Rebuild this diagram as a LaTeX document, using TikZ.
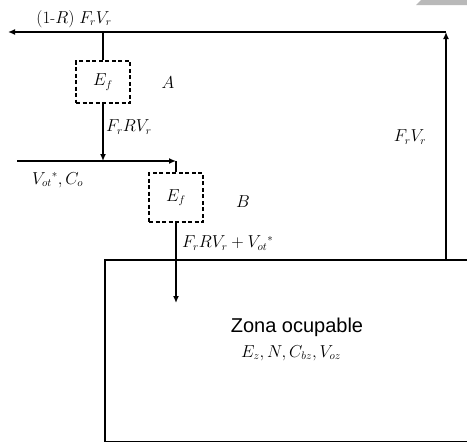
\documentclass[tikz,border=0pt]{standalone}
\usepackage{fontspec}
\newfontfamily\zonafont{Liberation Sans}
\usetikzlibrary{arrows,arrows.meta}

\begin{document}
\begin{tikzpicture}[
  x=1pt,y=-1pt,
  wire/.style={line width=1.3pt},
  flow/.style={wire,-{Latex[length=7pt,width=6pt]}},
  efbox/.style={draw,line width=1.2pt,dash pattern=on 4pt off 2.5pt,
    minimum width=54pt,minimum height=42pt,inner sep=0pt},
  lbl/.style={font=\fontsize{16}{18}\selectfont,inner sep=0pt}
]
  \useasboundingbox (0,0) rectangle (467,442);
  \fill[gray!55] (421,0) -- (467,0) -- (467,5) -- (416,5) -- cycle;

  % zone and the two dashed boxes
  \node[draw,line width=2pt,minimum width=380pt,minimum height=182pt,
    anchor=north west,inner sep=0pt] (zona) at (104,259) {};
  \node[efbox,lbl] (ea) at (103,82) {$E_f$};
  \node[efbox,lbl,minimum height=49pt] (eb) at (176,197.5) {$E_f$};

  \coordinate (tl) at (8,32);
  \coordinate (tr) at (446,32);
  \coordinate (ml) at (17,161);
  \coordinate (mr) at (176,161);
  \coordinate (tip) at (176,303);

  \draw[flow] (tr |- zona.north) -- (tr);
  \draw[flow] (tr) -- (tl);
  \draw[wire] (ea.north |- tl) -- (ea.north);
  \draw[flow] (ea.south) -- (ea.south |- ml);
  \draw[flow] (ml) -- (mr);
  \draw[wire] (mr) -- (eb.north);
  \draw[flow] (eb.south) -- (tip);

  \node[lbl] (rec) at (74,19) {$(1$-$R)\;F_r V_r$};
  \node[lbl] (la) at (168,83) {$A$};
  \node[lbl,anchor=west] (fa) at (106,127) {$F_r R V_r$};
  \node[lbl,anchor=west] (vin) at (32,180) {$V_{ot}{}^{*}, C_o$};
  \node[lbl] (lb) at (243,202) {$B$};
  \node[lbl,anchor=west] (fb) at (182,243) {$F_r R V_r + V_{ot}{}^{*}$};
  \node[lbl] (fr) at (410,137) {$F_r V_r$};
  \node[font=\zonafont\fontsize{20}{24}\selectfont,inner sep=0pt] (zt) at (297,327) {Zona ocupable};
  \node[lbl] (zv) at (291,353) {$E_z, N, C_{bz}, V_{oz}$};
\end{tikzpicture}
\end{document}
